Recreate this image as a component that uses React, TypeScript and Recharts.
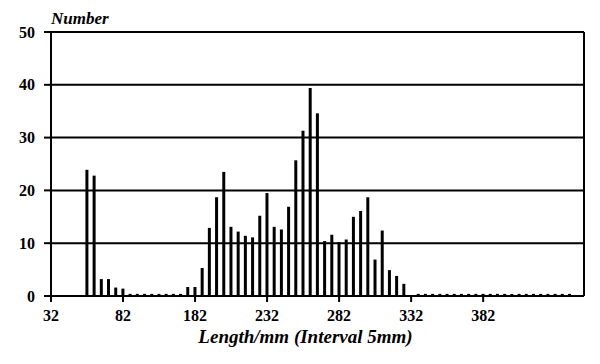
import * as React from 'react';
import {
  BarChart,
  Bar,
  XAxis,
  YAxis,
  CartesianGrid,
  ReferenceLine,
  Label
} from 'recharts';

// number of fish per 5mm length interval, index 0 = first interval (32mm)
const counts = [
  0, 0, 0, 0, 0, 23.9, 22.8, 3.2, 3.2, 1.6,
  1.4, 0.4, 0.4, 0.4, 0.4, 0.4, 0.4, 0.4, 0.4, 1.7,
  1.7, 5.3, 12.9, 18.7, 23.5, 13.1, 12.2, 11.4, 11.1, 15.2,
  19.5, 13.1, 12.6, 16.9, 25.7, 31.3, 39.4, 34.6, 10.4, 11.6,
  10.2, 10.7, 15.0, 16.1, 18.7, 6.9, 12.4, 4.9, 3.8, 2.3,
  0, 0.4, 0.4, 0.4, 0.4, 0.4, 0.4, 0.4, 0.4, 0.4,
  0.4, 0.4, 0.4, 0.4, 0.4, 0.4, 0.4, 0.4, 0.4, 0.4,
  0.4, 0.4, 0.4, 0
];

const xTickIndex = [0, 10, 20, 30, 40, 50, 60];
const xTickLabels = ['32', '82', '182', '232', '282', '332', '382'];
const yTicks = [0, 10, 20, 30, 40, 50];

const data = counts.map((count, interval) => ({ interval, count }));

const FONT = "'Liberation Serif', 'Times New Roman', serif";
const tickStyle = { fill: '#000', fontSize: 16, fontWeight: 'bold', fontFamily: FONT };

const YTitle = ({ viewBox }: any) => (
  <text
    x={viewBox.x + viewBox.width}
    y={viewBox.y - 8}
    fontFamily={FONT}
    fontSize={17}
    fontStyle="italic"
    fontWeight="bold"
    fill="#000"
  >
    Number
  </text>
);

const XTitle = ({ viewBox }: any) => (
  <text
    x={viewBox.x + viewBox.width / 2 - 12}
    y={viewBox.y + 47}
    textAnchor="middle"
    fontFamily={FONT}
    fontSize={19}
    fontStyle="italic"
    fontWeight="bold"
    fill="#000"
  >
    Length/mm (Interval 5mm)
  </text>
);

export default function App() {
  return (
    <div style={{ position: 'absolute', left: 0, top: 0, width: 600, height: 364, background: '#fff' }}>
      <BarChart
        width={600}
        height={364}
        data={data}
        margin={{ top: 32, right: 16, bottom: 38, left: 0 }}
      >
        <CartesianGrid horizontal vertical={false} stroke="#000" strokeWidth={2} />
        <XAxis
          type="number"
          dataKey="interval"
          domain={[0, 74]}
          ticks={xTickIndex}
          interval={0}
          tickFormatter={(v: number) => xTickLabels[xTickIndex.indexOf(v)]}
          axisLine={{ stroke: '#000', strokeWidth: 2 }}
          tickLine={{ stroke: '#000', strokeWidth: 2 }}
          tickSize={6}
          tickMargin={8}
          height={30}
          tick={tickStyle}
        >
          <Label content={<XTitle />} />
        </XAxis>
        <YAxis
          domain={[0, 50]}
          ticks={yTicks}
          interval={0}
          width={51}
          axisLine={{ stroke: '#000', strokeWidth: 2 }}
          tickLine={{ stroke: '#000', strokeWidth: 2 }}
          tickSize={7}
          tickMargin={9}
          tick={tickStyle}
        >
          <Label content={<YTitle />} />
        </YAxis>
        <ReferenceLine x={74} stroke="#000" strokeWidth={2} />
        <Bar dataKey="count" fill="#000" barSize={3} isAnimationActive={false} />
      </BarChart>
    </div>
  );
}
